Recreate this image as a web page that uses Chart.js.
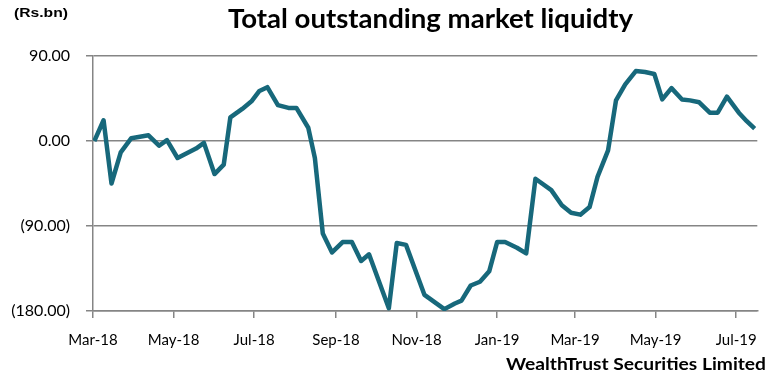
<!DOCTYPE html>
<html>
<head>
<meta charset="utf-8">
<script src="https://cdn.jsdelivr.net/npm/chart.js@4.4.1/dist/chart.umd.min.js"></script>
<style>
  html, body { margin: 0; padding: 0; background: #fff; }
  #wrap { width: 770px; height: 376px; position: relative; }
</style>
</head>
<body>
<div id="wrap"><canvas id="liquidityChart"></canvas></div>
<script>
// data (Rs.bn)
const startDate = '2018-03-01';
const dates = [
  '2018-03-02', '2018-03-09', '2018-03-15', '2018-03-22', '2018-03-30', '2018-04-12',
  '2018-04-20', '2018-04-26', '2018-05-04', '2018-05-11', '2018-05-18', '2018-05-24',
  '2018-06-01', '2018-06-08', '2018-06-13', '2018-06-22', '2018-06-29', '2018-07-05',
  '2018-07-11', '2018-07-19', '2018-07-27', '2018-08-02', '2018-08-11', '2018-08-16',
  '2018-08-22', '2018-08-29', '2018-09-06', '2018-09-13', '2018-09-20', '2018-09-26',
  '2018-10-11', '2018-10-17', '2018-10-24', '2018-11-07', '2018-11-22', '2018-11-30',
  '2018-12-05', '2018-12-12', '2018-12-19', '2018-12-26', '2019-01-01', '2019-01-07',
  '2019-01-16', '2019-01-23', '2019-01-30', '2019-02-11', '2019-02-19', '2019-02-26',
  '2019-03-05', '2019-03-12', '2019-03-18', '2019-03-26', '2019-04-01', '2019-04-08',
  '2019-04-16', '2019-04-23', '2019-04-30', '2019-05-06', '2019-05-13', '2019-05-21',
  '2019-05-27', '2019-06-03', '2019-06-11', '2019-06-17', '2019-06-24', '2019-07-03',
  '2019-07-09', '2019-07-15'
];
const liquidity = [
  0, 22, -45, -12, 3, 6,
  -5, 1, -18, -13, -8, -2,
  -35, -25, 25, 34, 42, 53,
  57, 38, 35, 35, 14, -18,
  -98, -118, -107, -107, -127, -120,
  -177, -108, -110, -163, -178, -172,
  -169, -153, -149, -138, -107, -107,
  -113, -119, -40, -52, -68, -76,
  -78, -70, -38, -10, 43, 60,
  74, 73, 71, 44, 56, 44,
  43, 41, 30, 30, 47, 30,
  21, 13
];
const tickDates = ['2018-03-01', '2018-05-01', '2018-07-01', '2018-09-01', '2018-11-01',
  '2019-01-01', '2019-03-01', '2019-05-01', '2019-07-01'];
const tickLabels = ['Mar-18', 'May-18', 'Jul-18', 'Sep-18', 'Nov-18', 'Jan-19', 'Mar-19', 'May-19', 'Jul-19'];
const yTicks = [90, 0, -90, -180];

function dayOf(s) {
  return Math.round((new Date(s) - new Date(startDate)) / 864e5);
}

const points = dates.map((d, i) => ({ x: dayOf(d), y: liquidity[i] }));
const tickDays = tickDates.map(dayOf);

// draw text stretched to the width it has in the picture
function fitText(ctx, text, left, width, y, font) {
  ctx.font = font;
  const w = ctx.measureText(text).width;
  ctx.save();
  ctx.translate(left, y);
  ctx.scale(width / w, 1);
  ctx.textAlign = 'left';
  ctx.fillText(text, 0, 0);
  ctx.restore();
}

const textPlugin = {
  id: 'texts',
  afterDraw(chart) {
    const ctx = chart.ctx;
    ctx.save();
    ctx.fillStyle = '#000';
    ctx.textBaseline = 'alphabetic';
    fitText(ctx, 'Total outstanding market liquidty', 228, 405, 28, 'bold 27px Lato');
    fitText(ctx, '(Rs.bn)', 14, 54, 17, 'bold 13px "Liberation Sans"');
    fitText(ctx, 'WealthTrust Securities Limited', 506, 260, 370, 'bold 17px Lato');
    ctx.restore();
  }
};

const ctx = document.getElementById('liquidityChart').getContext('2d');
const chart = new Chart(ctx, {
  type: 'line',
  data: {
    datasets: [{
      label: 'Total outstanding market liquidity',
      data: points,
      borderColor: '#17687b',
      borderWidth: 4.5,
      pointRadius: 0,
      tension: 0,
      borderJoinStyle: 'round',
      fill: false
    }]
  },
  options: {
    responsive: true,
    maintainAspectRatio: false,
    animation: false,
    layout: { padding: { top: 56, right: 10, left: 0, bottom: 0 } },
    plugins: {
      legend: { display: false },
      tooltip: { enabled: false }
    },
    scales: {
      x: {
        type: 'linear',
        min: 0,
        max: 503,
        afterBuildTicks: (axis) => { axis.ticks = tickDays.map(v => ({ value: v })); },
        afterFit: (axis) => { axis.height = 65; },
        ticks: {
          autoSkip: false,
          maxRotation: 0,
          padding: 13,
          color: '#000',
          font: { family: 'Lato', size: 15 },
          callback: (v) => tickLabels[tickDays.indexOf(v)]
        },
        grid: { drawOnChartArea: false, drawTicks: true, tickLength: 7, color: '#858585', lineWidth: 1.5 },
        border: { display: true, color: '#858585', width: 1.5 }
      },
      y: {
        min: -180,
        max: 90,
        afterBuildTicks: (axis) => { axis.ticks = yTicks.map(v => ({ value: v })); },
        afterFit: (axis) => { axis.width = 93; },
        ticks: {
          padding: 16,
          color: '#000',
          font: { family: 'Lato', size: 16 },
          callback: (v) => v < 0 ? '(' + Math.abs(v).toFixed(2) + ')' : v.toFixed(2)
        },
        grid: { drawOnChartArea: true, drawTicks: true, tickLength: 7, color: '#858585', lineWidth: 1.5 },
        border: { display: true, color: '#858585', width: 1.5 }
      }
    }
  },
  plugins: [textPlugin]
});
</script>
</body>
</html>
